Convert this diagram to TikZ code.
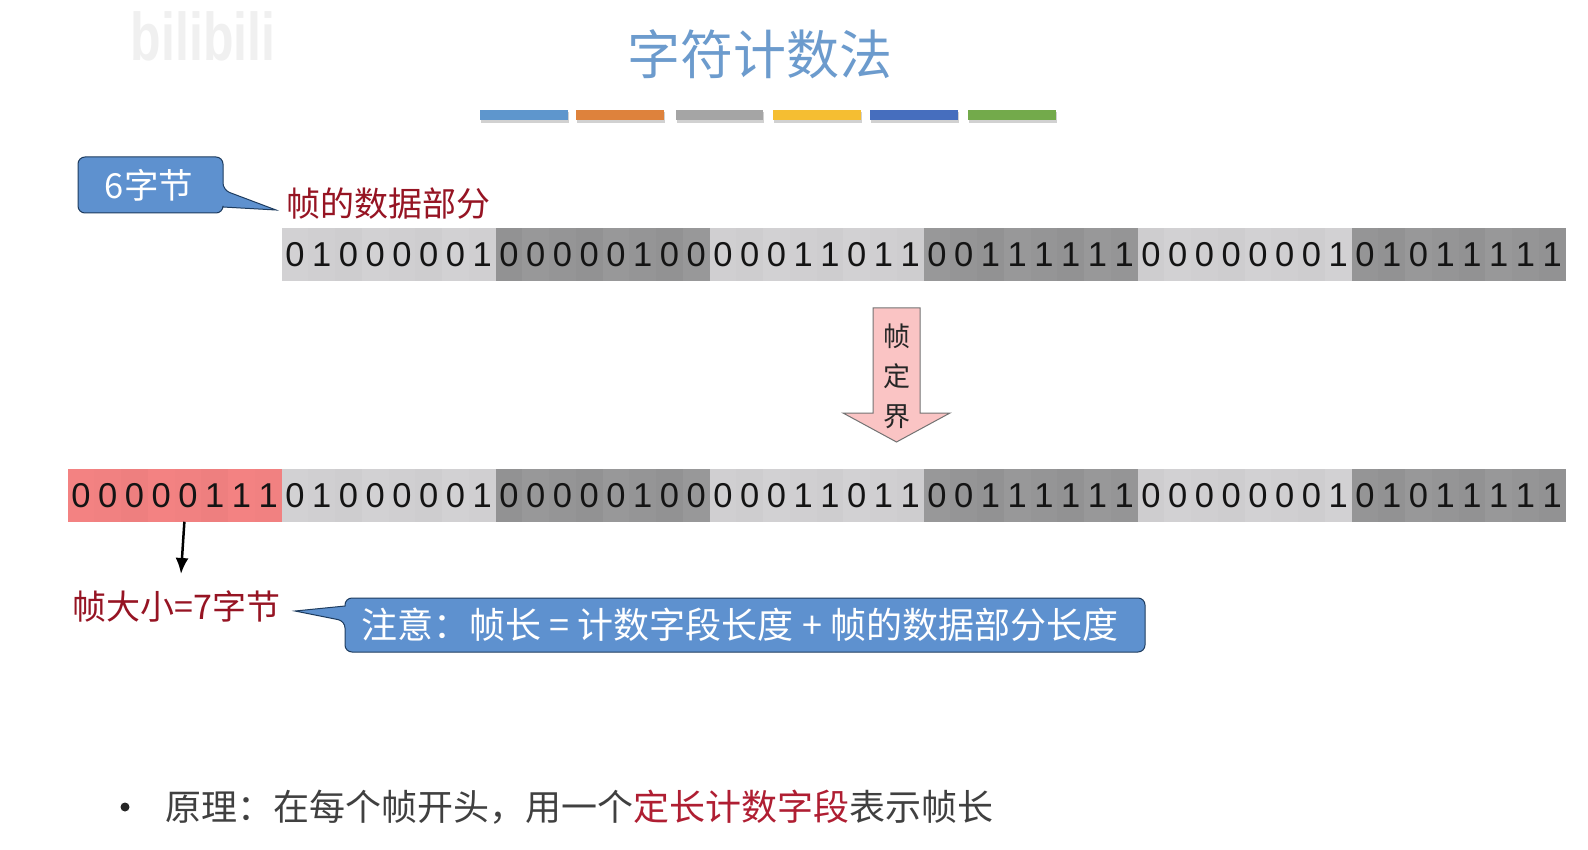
\documentclass[tikz,border=0pt]{standalone}
\usepackage{fontspec}
\setmainfont{Liberation Sans}
\newfontfamily\cjk{Noto Sans CJK SC}
\usetikzlibrary{calc,arrows.meta}
\definecolor{titleblue}{RGB}{108,155,205}
\definecolor{calloutfill}{RGB}{94,145,207}
\definecolor{calloutline}{RGB}{30,60,95}
\definecolor{darkred}{RGB}{150,20,35}
\definecolor{midred}{RGB}{175,30,50}
\definecolor{barA}{RGB}{94,150,205}
\definecolor{barB}{RGB}{222,130,60}
\definecolor{barC}{RGB}{165,165,165}
\definecolor{barD}{RGB}{245,190,50}
\definecolor{barE}{RGB}{70,110,190}
\definecolor{barF}{RGB}{115,170,75}
\definecolor{lightbyte}{RGB}{210,209,211}
\definecolor{darkbyte}{RGB}{152,152,153}
\definecolor{redbyte}{RGB}{243,130,130}
\definecolor{arrowpink}{RGB}{250,196,196}
\tikzset{
  bitcell/.style={minimum width=26.75pt,minimum height=52.5pt,inner sep=0pt,outer sep=0pt,anchor=west,font=\fontsize{34.5}{34.5}\selectfont,text=black!92},
  barrect/.style={minimum width=87.5pt,minimum height=10pt,inner sep=0pt,anchor=north west},
  calloutshape/.style={fill=calloutfill,draw=calloutline,line width=1pt,rounded corners=7pt},
  calloutlabel/.style={text=white,font=\cjk\fontsize{36}{36}\selectfont,inner sep=0pt},
  redlabel/.style={text=darkred,font=\cjk\fontsize{34}{34}\selectfont,inner sep=0pt},
}
\newcommand{\bitrow}[4]{% prefix, y, start x, bits (comma list)
  \foreach \b [count=\i from 0] in {#4} {
    \pgfmathtruncatemacro{\byteidx}{int(\i/8)}
    \pgfmathtruncatemacro{\isdark}{mod(\byteidx,2)}
    \pgfmathtruncatemacro{\shade}{mod(\i,3)*(1+\isdark)}
    \ifnum\isdark=1 \def\bc{darkbyte}\else\def\bc{lightbyte}\fi
    \node[bitcell,fill=\bc!\the\numexpr 100-\shade\relax!black] (#1\i) at ({#3+\i*26.75},#2) {\b};
  }
}
\begin{document}
\begin{tikzpicture}[x=1pt,y=-1pt]
\useasboundingbox (0,0) rectangle (1588,850);
\fill[white] (0,0) rectangle (1588,850);
% watermark
\node[text=black!6,font=\bfseries\fontsize{50}{50}\selectfont,inner sep=0pt,yscale=1.35] (wm) at (203,36) {bilibili};
% title
\node[text=titleblue,font=\cjk\fontsize{53}{53}\selectfont,inner sep=0pt] (title) at (760,54) {字符计数法};
% bars
\foreach \n/\x/\c in {a/480/barA,b/576/barB,c/675.5/barC,d/773/barD,e/870/barE,f/968/barF}{
  \fill[black!18] (\x+1,112) rectangle (\x+88.5,123);
  \node[barrect,fill=\c] (bar\n) at (\x,110) {};
}
% top row
\bitrow{t}{254.5}{281.5}{0,1,0,0,0,0,0,1,0,0,0,0,0,1,0,0,0,0,0,1,1,0,1,1,0,0,1,1,1,1,1,1,0,0,0,0,0,0,0,1,0,1,0,1,1,1,1,1}
% bottom row
\foreach \b [count=\i from 0] in {0,0,0,0,0,1,1,1}{
  \pgfmathtruncatemacro{\shade}{mod(\i,3)}
  \node[bitcell,fill=redbyte!\the\numexpr 100-\shade\relax!black] (r\i) at ({67.5+\i*26.75},495.5) {\b};
}
\bitrow{u}{495.5}{281.5}{0,1,0,0,0,0,0,1,0,0,0,0,0,1,0,0,0,0,0,1,1,0,1,1,0,0,1,1,1,1,1,1,0,0,0,0,0,0,0,1,0,1,0,1,1,1,1,1}
% callout 1
\draw[calloutshape] (78,157) -- (223,157) -- (223,190) [sharp corners] -- (276,210) -- (223,207) [rounded corners=7pt] -- (223,213) -- (78,213) -- cycle;
\node[calloutlabel,font=\cjk\fontsize{34.5}{34.5}\selectfont] (six) at (149,185) {6字节};
\node[redlabel] (frame) at (388,204) {帧的数据部分};
% block arrow
\draw[fill=arrowpink,draw=black!55,line width=1pt]
  (873,308) -- (920,308) -- (920,413) -- (950,413) -- (896.5,442) -- (843,413) -- (873,413) -- cycle;
\node[text=black!85,font=\cjk\fontsize{27}{27}\selectfont,inner sep=0pt,align=center] (fd) at (896.5,376) {帧\\[13pt]定\\[13pt]界};
% size label
\node[redlabel] (size) at (176.5,606) {帧大小=7字节};
\coordinate (arrowend) at (181,574);
\draw[line width=2.5pt,-{Latex[length=16pt,width=13pt]}] ([xshift=-3.5pt]r4.south) -- (arrowend);
% callout 2
\draw[calloutshape] (345,598) -- (1145,598) -- (1145,652) -- (345,652) -- (345,621) [sharp corners] -- (295,611) -- (345,606) [rounded corners=7pt] -- cycle;
\node[calloutlabel] (note) at (740,625) {注意：帧长 = 计数字段长度 + 帧的数据部分长度};
% bullet
\node[circle,fill=black!85,minimum size=9pt,inner sep=0pt] (dot) at (125,807) {};
\node[anchor=west,inner sep=0pt,text=black!75,font=\cjk\fontsize{36}{36}\selectfont] (rule) at (165,807) {原理：在每个帧开头，用一个\textcolor{midred}{定长计数字段}表示帧长};
\end{tikzpicture}
\end{document}
